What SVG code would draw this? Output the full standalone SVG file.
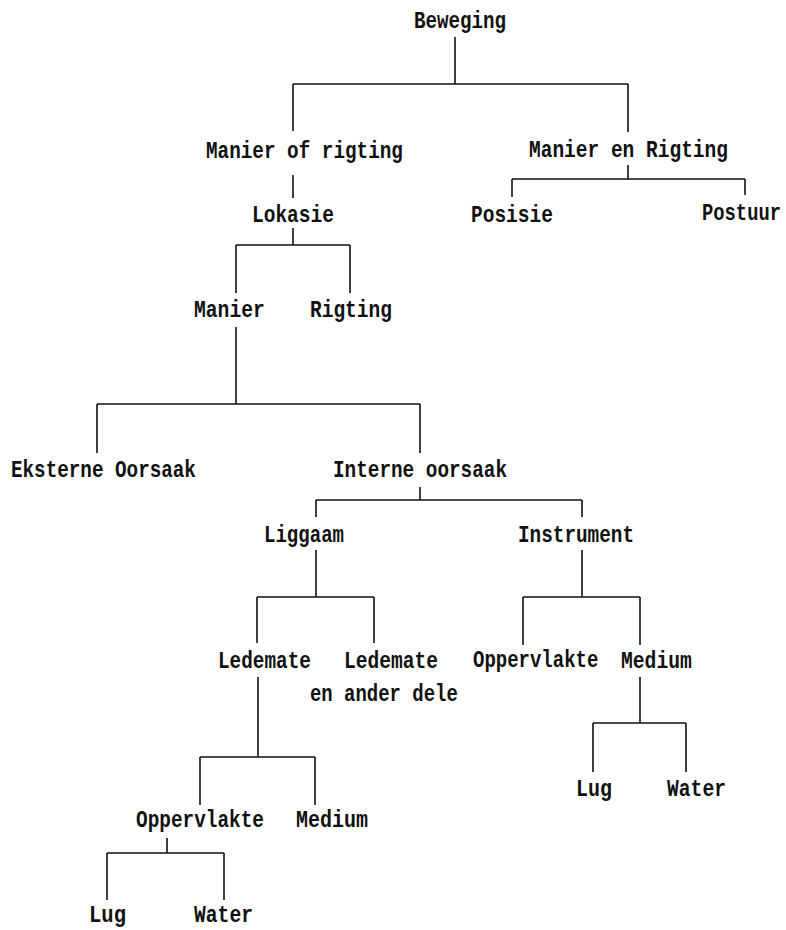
<svg xmlns="http://www.w3.org/2000/svg" width="786" height="930" viewBox="0 0 786 930">
<style>
text{font-family:"Liberation Mono","DejaVu Sans Mono",monospace;font-size:24px;font-weight:bold;fill:#111}
.c path{fill:none;stroke:#111;stroke-width:1.6}
</style>
<rect width="786" height="930" fill="#fff"/>
<g class="c" id="connectors">
<path d="M455,37V84M293,84H628M293,84V131M628,84V132"/>
<path d="M293,175V198"/>
<path d="M628,165V179M512,179H745M512,179V197M745,179V195"/>
<path d="M293,228V245M236,245H350M236,245V293M350,245V293"/>
<path d="M236,327V404M97,404H420M97,404V453M420,404V453"/>
<path d="M420,487V500M316,500H582M316,500V517M582,500V517"/>
<path d="M316,550V597M257,597H374M257,597V643M374,597V643"/>
<path d="M582,550V597M523,597H640M523,597V645M640,597V645"/>
<path d="M258,677V757M200,757H315M200,757V805M315,757V805"/>
<path d="M640,677V723M593,723H686M593,723V772M686,723V772"/>
<path d="M167,838V853M107,853H224M107,853V900M224,853V900"/>
</g>
<g id="beweging"><text transform="matrix(0.8,0,0,1,414,28)">Beweging</text></g>
<g id="manier-of-rigting"><text transform="matrix(0.805,0,0,1,206,158)">Manier of rigting</text></g>
<g id="manier-en-rigting"><text transform="matrix(0.813,0,0,1,529,157)">Manier en Rigting</text></g>
<g id="lokasie"><text transform="matrix(0.813,0,0,1,252,222)">Lokasie</text></g>
<g id="posisie"><text transform="matrix(0.813,0,0,1,471,222)">Posisie</text></g>
<g id="postuur"><text transform="matrix(0.784,0,0,1,702,220)">Postuur</text></g>
<g id="manier"><text transform="matrix(0.82,0,0,1,194,317)">Manier</text></g>
<g id="rigting"><text transform="matrix(0.813,0,0,1,310,317)">Rigting</text></g>
<g id="eksterne-oorsaak"><text transform="matrix(0.803,0,0,1,11,477)">Eksterne Oorsaak</text></g>
<g id="interne-oorsaak"><text transform="matrix(0.806,0,0,1,333,477)">Interne oorsaak</text></g>
<g id="liggaam"><text transform="matrix(0.794,0,0,1,264,542)">Liggaam</text></g>
<g id="instrument"><text transform="matrix(0.806,0,0,1,518,542)">Instrument</text></g>
<g id="ledemate"><text transform="matrix(0.807,0,0,1,218,668)">Ledemate</text></g>
<g id="ledemate-en-ander-dele"><text transform="matrix(0.816,0,0,1,344,668)">Ledemate</text><text transform="matrix(0.79,0,0,1,310,701)">en ander dele</text></g>
<g id="oppervlakte-instrument"><text transform="matrix(0.792,0,0,1,473,667)">Oppervlakte</text></g>
<g id="medium-instrument"><text transform="matrix(0.82,0,0,1,621,668)">Medium</text></g>
<g id="oppervlakte-ledemate"><text transform="matrix(0.808,0,0,1,136,827)">Oppervlakte</text></g>
<g id="medium-ledemate"><text transform="matrix(0.833,0,0,1,296,827)">Medium</text></g>
<g id="lug-oppervlakte"><text transform="matrix(0.856,0,0,1,89,922)">Lug</text></g>
<g id="water-oppervlakte"><text transform="matrix(0.82,0,0,1,194,922)">Water</text></g>
<g id="lug-medium"><text transform="matrix(0.833,0,0,1,576,796)">Lug</text></g>
<g id="water-medium"><text transform="matrix(0.82,0,0,1,667,796)">Water</text></g>
</svg>
